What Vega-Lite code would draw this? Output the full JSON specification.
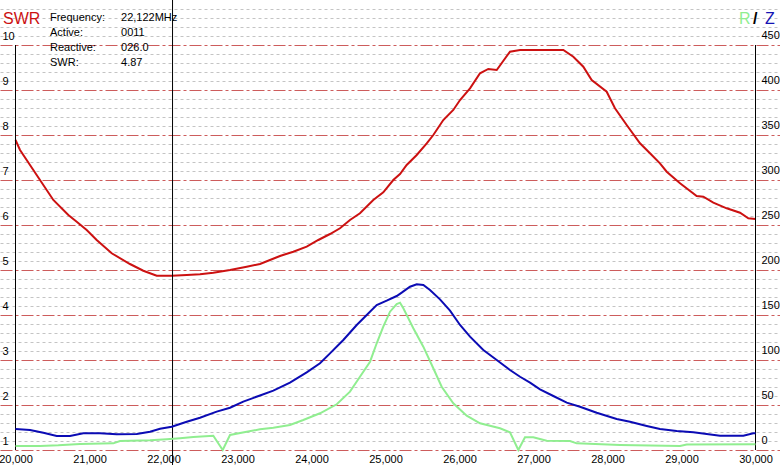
{
  "$schema": "https://vega.github.io/schema/vega-lite/v6.json",
  "width": 780,
  "height": 465,
  "padding": 0,
  "autosize": "none",
  "background": "white",
  "config": {
    "view": {"stroke": null},
    "font": "Liberation Sans",
    "axis": {"labelFont": "Liberation Sans", "labelFontSize": 11, "labelColor": "black", "title": null}
  },
  "datasets": {
    "swr": [
      {"f": 20000, "swr": 7.889}, {"f": 20061, "swr": 7.667}, {"f": 20241, "swr": 7.222}, {"f": 20331, "swr": 7.0},
      {"f": 20511, "swr": 6.556}, {"f": 20714, "swr": 6.222}, {"f": 20827, "swr": 6.073}, {"f": 20962, "swr": 5.889},
      {"f": 21097, "swr": 5.667}, {"f": 21300, "swr": 5.371}, {"f": 21547, "swr": 5.133}, {"f": 21727, "swr": 4.984},
      {"f": 21908, "swr": 4.873}, {"f": 22111, "swr": 4.873}, {"f": 22314, "swr": 4.889}, {"f": 22493, "swr": 4.904},
      {"f": 22673, "swr": 4.94}, {"f": 22899, "swr": 5.0}, {"f": 23124, "swr": 5.073}, {"f": 23304, "swr": 5.133},
      {"f": 23439, "swr": 5.222}, {"f": 23574, "swr": 5.311}, {"f": 23754, "swr": 5.407}, {"f": 23935, "swr": 5.518},
      {"f": 24092, "swr": 5.667}, {"f": 24250, "swr": 5.8}, {"f": 24385, "swr": 5.927}, {"f": 24520, "swr": 6.111},
      {"f": 24655, "swr": 6.26}, {"f": 24835, "swr": 6.556}, {"f": 24970, "swr": 6.727}, {"f": 25105, "swr": 7.0},
      {"f": 25196, "swr": 7.133}, {"f": 25286, "swr": 7.333}, {"f": 25422, "swr": 7.556}, {"f": 25557, "swr": 7.816},
      {"f": 25646, "swr": 8.0}, {"f": 25781, "swr": 8.333}, {"f": 25916, "swr": 8.556}, {"f": 26007, "swr": 8.778},
      {"f": 26142, "swr": 9.038}, {"f": 26277, "swr": 9.371}, {"f": 26389, "swr": 9.467}, {"f": 26503, "swr": 9.444},
      {"f": 26682, "swr": 9.851}, {"f": 26818, "swr": 9.889}, {"f": 27403, "swr": 9.889}, {"f": 27538, "swr": 9.74},
      {"f": 27673, "swr": 9.518}, {"f": 27786, "swr": 9.222}, {"f": 27989, "swr": 8.962}, {"f": 28101, "swr": 8.593},
      {"f": 28259, "swr": 8.222}, {"f": 28439, "swr": 7.816}, {"f": 28574, "swr": 7.593}, {"f": 28709, "swr": 7.371},
      {"f": 28800, "swr": 7.184}, {"f": 28980, "swr": 6.927}, {"f": 29205, "swr": 6.644}, {"f": 29295, "swr": 6.629},
      {"f": 29430, "swr": 6.496}, {"f": 29611, "swr": 6.371}, {"f": 29791, "swr": 6.273}, {"f": 29903, "swr": 6.149},
      {"f": 30000, "swr": 6.133}
    ],
    "z": [
      {"f": 20000, "z": 23.3}, {"f": 20196, "z": 22.2}, {"f": 20376, "z": 19.2}, {"f": 20557, "z": 15.6},
      {"f": 20736, "z": 15.6}, {"f": 20916, "z": 18.6}, {"f": 21142, "z": 18.6}, {"f": 21368, "z": 17.4},
      {"f": 21638, "z": 17.8}, {"f": 21818, "z": 20.3}, {"f": 21953, "z": 23.7}, {"f": 22111, "z": 25.9},
      {"f": 22314, "z": 31.4}, {"f": 22493, "z": 35.9}, {"f": 22719, "z": 42.6}, {"f": 22899, "z": 47.0},
      {"f": 23078, "z": 53.7}, {"f": 23304, "z": 60.6}, {"f": 23484, "z": 65.9}, {"f": 23709, "z": 74.8},
      {"f": 23935, "z": 86.3}, {"f": 24115, "z": 96.3}, {"f": 24250, "z": 107.4}, {"f": 24430, "z": 122.2},
      {"f": 24611, "z": 138.9}, {"f": 24746, "z": 150.0}, {"f": 24881, "z": 161.1}, {"f": 25016, "z": 165.9},
      {"f": 25151, "z": 171.1}, {"f": 25219, "z": 174.8}, {"f": 25331, "z": 181.4}, {"f": 25422, "z": 184.1},
      {"f": 25511, "z": 183.3}, {"f": 25601, "z": 177.8}, {"f": 25736, "z": 167.4}, {"f": 25872, "z": 154.8},
      {"f": 26007, "z": 138.9}, {"f": 26142, "z": 125.9}, {"f": 26322, "z": 111.1}, {"f": 26503, "z": 100.0},
      {"f": 26682, "z": 88.9}, {"f": 26818, "z": 81.4}, {"f": 26953, "z": 74.8}, {"f": 27088, "z": 67.4},
      {"f": 27268, "z": 60.0}, {"f": 27449, "z": 52.6}, {"f": 27628, "z": 48.1}, {"f": 27854, "z": 41.4},
      {"f": 28124, "z": 34.4}, {"f": 28304, "z": 31.4}, {"f": 28530, "z": 26.7}, {"f": 28709, "z": 23.3},
      {"f": 28935, "z": 21.1}, {"f": 29160, "z": 19.7}, {"f": 29520, "z": 15.9}, {"f": 29835, "z": 15.9},
      {"f": 29970, "z": 18.6}, {"f": 30000, "z": 18.6}
    ],
    "r": [
      {"f": 20000, "r": 4.4}, {"f": 20331, "r": 4.4}, {"f": 20578, "r": 5.2}, {"f": 20872, "r": 6.7},
      {"f": 21322, "r": 7.4}, {"f": 21412, "r": 10.0}, {"f": 21818, "r": 10.8}, {"f": 22043, "r": 11.9},
      {"f": 22223, "r": 13.0}, {"f": 22403, "r": 14.4}, {"f": 22673, "r": 15.9}, {"f": 22800, "r": 0},
      {"f": 22899, "r": 16.7}, {"f": 23124, "r": 20.3}, {"f": 23304, "r": 23.0}, {"f": 23484, "r": 24.8},
      {"f": 23709, "r": 27.8}, {"f": 23889, "r": 33.3}, {"f": 24115, "r": 40.8}, {"f": 24341, "r": 50.8},
      {"f": 24520, "r": 64.8}, {"f": 24655, "r": 81.4}, {"f": 24791, "r": 98.1}, {"f": 24881, "r": 118.6},
      {"f": 24970, "r": 137.0}, {"f": 25061, "r": 153.7}, {"f": 25151, "r": 162.2}, {"f": 25196, "r": 163.7},
      {"f": 25241, "r": 157.4}, {"f": 25376, "r": 135.2}, {"f": 25511, "r": 114.8}, {"f": 25646, "r": 90.8},
      {"f": 25759, "r": 70.3}, {"f": 25916, "r": 51.9}, {"f": 26097, "r": 38.1}, {"f": 26277, "r": 29.7},
      {"f": 26547, "r": 24.1}, {"f": 26682, "r": 19.7}, {"f": 26795, "r": 0}, {"f": 26885, "r": 14.1},
      {"f": 26997, "r": 14.1}, {"f": 27178, "r": 10.3}, {"f": 27493, "r": 10.0}, {"f": 27584, "r": 7.4},
      {"f": 28169, "r": 5.6}, {"f": 28980, "r": 4.4}, {"f": 29070, "r": 6.1}, {"f": 30000, "r": 6.3}
    ]
  },
  "layer": [
    {
      "layer": [
        {
          "data": {"name": "swr"},
          "mark": {"type": "line", "color": "#cc1111", "strokeWidth": 2},
          "encoding": {
            "x": {
              "field": "f", "type": "quantitative",
              "scale": {"domain": [19790.5, 30331], "nice": false, "zero": false},
              "axis": {
                "orient": "bottom", "offset": -15, "title": null, "tickCount": 100,
                "values": [20000, 21000, 22000, 23000, 24000, 25000, 26000, 27000, 28000, 29000, 30000],
                "labelExpr": "replace(format(datum.value, ',d'), '.', ',')",
                "grid": false, "domain": false, "ticks": false, "tickSize": 0,
                "labelPadding": 12, "labelBaseline": "alphabetic", "labelFlush": false, "labelOverlap": false
              }
            },
            "y": {
              "field": "swr", "type": "quantitative",
              "scale": {"domain": [0.6667, 11], "nice": false, "zero": false},
              "axis": {
                "orient": "left", "offset": -15, "title": null, "tickCount": 200,
                "values": [1, 1.2, 1.4, 1.6, 1.8, 2, 2.2, 2.4, 2.6, 2.8, 3, 3.2, 3.4, 3.6, 3.8, 4, 4.2, 4.4, 4.6, 4.8, 5, 5.2, 5.4, 5.6, 5.8, 6, 6.2, 6.4, 6.6, 6.8, 7, 7.2, 7.4, 7.6, 7.8, 8, 8.2, 8.4, 8.6, 8.8, 9, 9.2, 9.4, 9.6, 9.8, 10, 10.2, 10.4, 10.6, 10.8],
                "labelExpr": "datum.value % 1 === 0 ? '' + datum.value : ''",
                "grid": true,
                "gridColor": {"condition": {"test": "datum.value % 1 === 0", "value": "#cd5c5c"}, "value": "#c4c4c4"},
                "gridDash": {"condition": {"test": "datum.value % 1 === 0", "value": [12, 3, 3, 3]}, "value": [3, 3]},
                "gridWidth": 1,
                "domain": false, "ticks": false, "tickSize": 0,
                "labelAlign": "left", "labelPadding": 13, "labelOffset": -9, "labelOverlap": false
              }
            }
          }
        },
        {
          "data": {"values": [{"f": 20000}, {"f": 30000}]},
          "mark": {"type": "rule", "color": "black", "strokeWidth": 1},
          "encoding": {
            "x": {"field": "f", "type": "quantitative", "scale": {"domain": [19790.5, 30331], "nice": false, "zero": false}},
            "y": {"datum": 1, "type": "quantitative", "scale": {"domain": [0.6667, 11], "nice": false, "zero": false}},
            "y2": {"datum": 10}
          }
        },
        {
          "data": {"values": [{"f": 22122}]},
          "mark": {"type": "rule", "color": "black", "strokeWidth": 1},
          "encoding": {
            "x": {"field": "f", "type": "quantitative", "scale": {"domain": [19790.5, 30331], "nice": false, "zero": false}}
          }
        },
        {
          "data": {"values": [{}]},
          "mark": {"type": "text", "text": ["Frequency:", "Active:", "Reactive:", "SWR:"], "lineHeight": 15, "align": "left", "baseline": "top", "fontSize": 11, "font": "Liberation Sans", "color": "black"},
          "encoding": {
            "x": {"datum": 20466, "type": "quantitative", "scale": {"domain": [19790.5, 30331], "nice": false, "zero": false}},
            "y": {"datum": 10.727, "type": "quantitative", "scale": {"domain": [0.6667, 11], "nice": false, "zero": false}}
          }
        },
        {
          "data": {"values": [{}]},
          "mark": {"type": "text", "text": ["22,122MHz", "0011", "026.0", "4.87"], "lineHeight": 15, "align": "left", "baseline": "top", "fontSize": 11, "font": "Liberation Sans", "color": "black"},
          "encoding": {
            "x": {"datum": 21426, "type": "quantitative", "scale": {"domain": [19790.5, 30331], "nice": false, "zero": false}},
            "y": {"datum": 10.727, "type": "quantitative", "scale": {"domain": [0.6667, 11], "nice": false, "zero": false}}
          }
        },
        {
          "data": {"values": [{}]},
          "mark": {"type": "text", "text": "SWR", "align": "left", "baseline": "alphabetic", "fontSize": 16, "font": "Liberation Sans", "color": "#cc1111"},
          "encoding": {
            "x": {"datum": 19831, "type": "quantitative", "scale": {"domain": [19790.5, 30331], "nice": false, "zero": false}},
            "y": {"datum": 10.467, "type": "quantitative", "scale": {"domain": [0.6667, 11], "nice": false, "zero": false}}
          }
        },
        {
          "data": {"values": [{}]},
          "mark": {"type": "text", "text": "R", "align": "left", "baseline": "alphabetic", "fontSize": 16, "font": "Liberation Sans", "color": "#90ee90"},
          "encoding": {
            "x": {"datum": 29777, "type": "quantitative", "scale": {"domain": [19790.5, 30331], "nice": false, "zero": false}},
            "y": {"datum": 10.467, "type": "quantitative", "scale": {"domain": [0.6667, 11], "nice": false, "zero": false}}
          }
        },
        {
          "data": {"values": [{}]},
          "mark": {"type": "text", "text": "/", "align": "left", "baseline": "alphabetic", "fontSize": 16, "fontWeight": "bold", "font": "Liberation Sans", "color": "black"},
          "encoding": {
            "x": {"datum": 29966, "type": "quantitative", "scale": {"domain": [19790.5, 30331], "nice": false, "zero": false}},
            "y": {"datum": 10.467, "type": "quantitative", "scale": {"domain": [0.6667, 11], "nice": false, "zero": false}}
          }
        },
        {
          "data": {"values": [{}]},
          "mark": {"type": "text", "text": "Z", "align": "left", "baseline": "alphabetic", "fontSize": 16, "font": "Liberation Sans", "color": "#1414b4"},
          "encoding": {
            "x": {"datum": 30128, "type": "quantitative", "scale": {"domain": [19790.5, 30331], "nice": false, "zero": false}},
            "y": {"datum": 10.467, "type": "quantitative", "scale": {"domain": [0.6667, 11], "nice": false, "zero": false}}
          }
        }
      ]
    },
    {
      "layer": [
        {
          "data": {"name": "z"},
          "mark": {"type": "line", "color": "#0b0bb4", "strokeWidth": 2},
          "encoding": {
            "x": {"field": "f", "type": "quantitative", "scale": {"domain": [19790.5, 30331], "nice": false, "zero": false}},
            "y": {
              "field": "z", "type": "quantitative",
              "scale": {"domain": [-16.667, 500], "nice": false, "zero": false},
              "axis": {
                "orient": "right", "offset": -24, "title": null, "tickCount": 100,
                "values": [0, 50, 100, 150, 200, 250, 300, 350, 400, 450],
                "grid": false, "domain": false, "ticks": false, "tickSize": 0,
                "labelAlign": "left", "labelPadding": 5, "labelOffset": -9, "labelOverlap": false
              }
            }
          }
        },
        {
          "data": {"name": "r"},
          "mark": {"type": "line", "color": "#90ee90", "strokeWidth": 2},
          "encoding": {
            "x": {"field": "f", "type": "quantitative", "scale": {"domain": [19790.5, 30331], "nice": false, "zero": false}},
            "y": {
              "field": "r", "type": "quantitative",
              "scale": {"domain": [-16.667, 500], "nice": false, "zero": false},
              "axis": {
                "orient": "right", "offset": -24, "title": null, "tickCount": 100,
                "values": [0, 50, 100, 150, 200, 250, 300, 350, 400, 450],
                "grid": false, "domain": false, "ticks": false, "tickSize": 0,
                "labelAlign": "left", "labelPadding": 5, "labelOffset": -9, "labelOverlap": false
              }
            }
          }
        }
      ]
    }
  ],
  "resolve": {"scale": {"y": "independent"}, "axis": {"y": "independent"}}
}
